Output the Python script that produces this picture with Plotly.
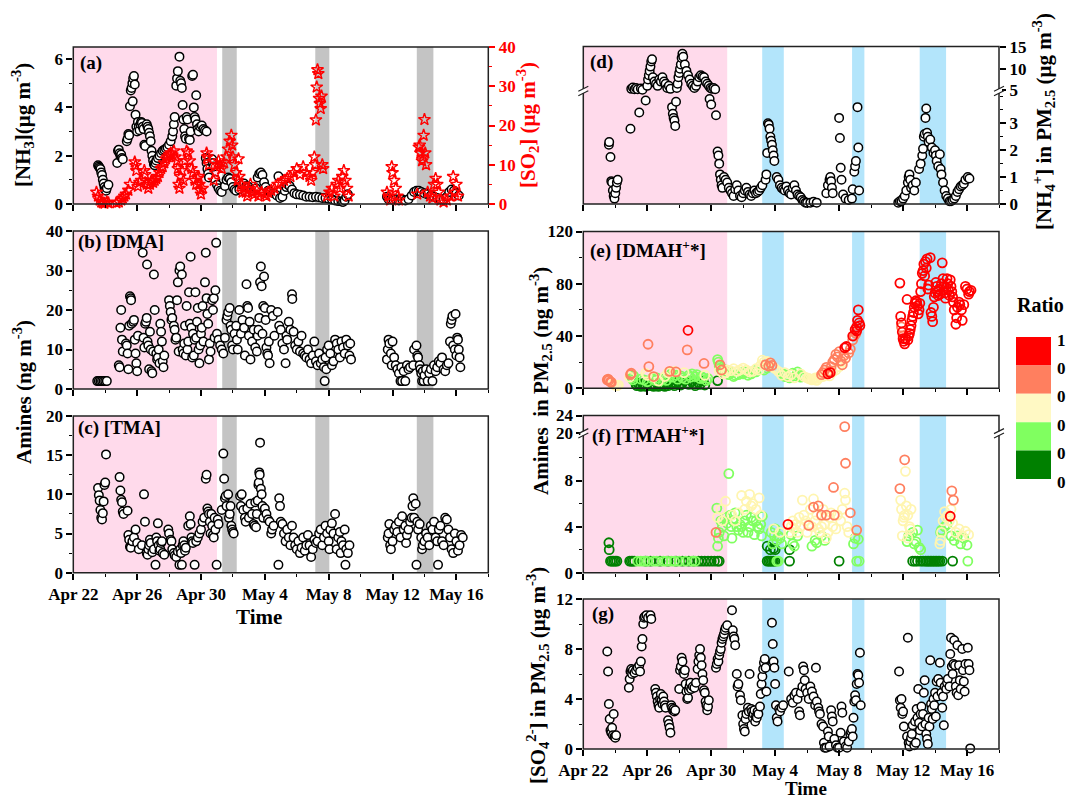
import pandas as pd
import plotly.graph_objects as go

# page body adds an 8px margin; figure is sized so that it ends at the window edge
PAGE_OFF = 8
W, H = 1077 - PAGE_OFF, 809 - PAGE_OFF
FONT = "Liberation Serif"
BASE = pd.Timestamp("2018-04-22")
X_END = BASE + pd.Timedelta(days=26)

# ---------------- periods (days since Apr 22) ----------------
pink_period = (0.0, 9.0)
gray_periods = [(9.33, 10.24), (15.16, 16.04), (21.52, 22.56)]
blue_periods = [(11.19, 12.54), (16.81, 17.58), (21.04, 22.69)]

# ---------------- legend ----------------
ratio_colors = ["#FF0000", "#FF7F5F", "#FFF9C4", "#80FF60", "#008000"]
ratio_labels = ["1", "0", "0", "0", "0", "0"]
class_order = ["D", "G", "Y", "S", "R"]
class_colors = {"R": "#FF0000", "S": "#FF7F5F", "Y": "#FFF5B0", "G": "#80FF60", "D": "#008000"}

# ---------------- (a) NH3 (ug m-3) ----------------
nh3 = [(1.55,1.6),(1.6,1.55),(1.65,1.5),(1.7,1.45),(1.75,1.3),(1.8,1.2),(1.85,1.0),(1.9,0.85),(1.95,0.7),(2.0,0.6),(2.05,0.55),(2.1,0.65),(2.2,0.8),
(2.75,1.7),(2.8,2.2),(2.85,2.25),(2.9,2.1),(2.95,2.0),(3.0,2.05),(3.05,1.9),(3.1,1.85),
(3.35,2.6),(3.4,2.7),(3.45,2.9),(3.5,2.85),(3.55,4.05),(3.6,4.7),(3.65,4.8),(3.7,5.0),(3.72,4.25),(3.75,5.2),(3.8,5.3),(3.85,4.95),(3.9,3.7),
(3.95,3.2),(4.0,3.0),(4.05,3.4),(4.1,3.2),(4.15,3.05),(4.2,3.3),(4.25,3.4),(4.3,3.35),(4.35,3.2),(4.4,3.1),(4.45,2.45),(4.5,2.4),(4.6,3.3),(4.65,3.2),(4.7,3.1),(4.75,2.95),(4.8,2.8),(4.85,2.6),(4.9,2.2),(4.95,2.0),(5.0,1.8),(5.05,1.65),(5.1,1.6),(5.15,1.7),(5.2,1.8),(5.3,1.9),(5.4,2.0),(5.5,2.1),(5.6,2.2),(5.7,2.25),(5.8,2.3),(5.9,2.35),(6.0,2.45),(6.1,2.6),(6.2,2.8),(6.25,3.0),(6.3,3.3),(6.35,3.6),
(6.45,4.9),(6.5,5.2),(6.55,5.5),(6.65,6.1),(6.7,5.1),(6.75,5.0),(6.8,4.8),(6.85,4.1),(6.9,3.5),(6.95,3.1),(7.0,2.8),(7.05,2.7),(7.1,3.6),(7.15,3.5),
(7.25,2.7),(7.3,2.65),(7.35,3.0),(7.45,5.3),(7.5,5.35),(7.55,4.0),(7.6,3.6),(7.65,3.5),(7.7,4.5),(7.75,3.3),(7.8,3.1),(7.85,3.0),
(7.95,3.2),(8.05,3.25),(8.15,3.1),(8.25,3.05),(8.35,3.0),
(8.3,1.9),(8.35,1.7),(8.4,1.45),(8.45,1.25),(8.5,1.1),(8.7,1.85),(8.75,1.7),(8.8,1.55),
(8.9,1.0),(9.0,0.8),(9.1,0.65),(9.2,0.55),(9.3,0.5),
(9.5,0.75),(9.6,1.0),(9.7,1.1),(9.8,1.05),(9.9,0.9),(10.0,0.7),(10.1,0.6),(10.2,0.55),
(10.4,0.6),(10.55,0.8),(10.7,0.85),(10.85,0.75),(11.0,0.7),(11.15,0.6),(11.3,0.55),(11.45,0.65),
(11.55,1.1),(11.65,1.25),(11.75,1.3),(11.85,1.2),(11.95,0.9),(12.05,0.7),(12.2,0.55),
(12.35,0.5),(12.55,0.45),(12.75,0.35),(12.85,1.15),(12.95,0.25),(13.1,0.3),(13.25,0.55),(13.35,0.7),(13.45,0.8),(13.55,0.75),(13.7,0.6),(13.85,0.45),
(14.0,0.4),(14.2,0.38),(14.4,0.35),(14.6,0.3),(14.8,0.3),(15.0,0.28),(15.2,0.3),(15.4,0.28),(15.6,0.25),(15.8,0.25),(16.0,0.22),(16.2,0.2),
(16.4,0.15),(16.6,0.12),(16.8,0.1),(16.9,0.08),(17.0,0.15),(17.1,0.3),(17.2,0.4),
(19.65,0.3),(19.75,0.2),(19.9,0.2),(20.05,0.18),(20.2,0.2),(20.4,0.15),(20.6,0.2),(20.8,0.15),(21.0,0.2),(21.2,0.35),(21.35,0.5),
(21.5,0.55),(21.65,0.55),(21.8,0.5),(22.0,0.45),(22.2,0.4),
(22.4,0.35),(22.6,0.3),(22.8,0.25),(23.0,0.2),(23.2,0.2),(23.4,0.3),(23.55,0.5),(23.7,0.6),(23.85,0.55),(24.0,0.45),(24.15,0.35)]

# ---------------- (a) SO2 (ug m-3) ----------------
so2 = [(1.45,3.0),(1.55,2.0),(1.65,1.0),(1.75,0.5),(1.85,0.3),(1.95,0.2),(2.1,0.5),(2.2,0.3),
(2.7,0.3),(2.85,0.5),(3.0,1.0),(3.1,1.5),(3.2,2.0),(3.3,2.5),(3.45,3.5),(3.55,5.0),
(3.85,10.7),(3.9,9.8),(3.95,8.5),
(4.05,4.5),(4.15,5.5),(4.25,6.0),(4.45,8.5),(4.5,7.5),(4.6,5.0),(4.7,4.0),(4.8,5.0),(4.9,6.0),(5.0,5.5),(5.1,6.0),
(5.2,6.5),(5.3,7.0),(5.4,8.0),(5.5,9.0),(5.6,9.5),(5.7,10.5),(5.8,11.5),(5.9,12.0),(6.0,12.5),(6.1,13.0),(6.2,12.5),(6.3,13.5),(6.4,12.0),(6.5,11.0),(6.55,9.0),(6.6,5.0),(6.65,4.0),(6.7,7.0),(6.8,8.5),(6.9,6.0),
(7.0,11.0),(7.1,13.5),(7.2,13.0),(7.3,11.0),(7.4,9.0),(7.5,8.0),(7.6,6.0),(7.7,5.0),(7.8,6.5),(7.85,7.0),(7.9,5.0),(7.95,3.5),(8.0,2.5),(8.1,4.0),
(8.35,13.0),(8.4,12.0),(8.5,10.0),
(8.8,6.0),(8.9,8.0),(9.0,10.0),(9.1,11.0),(9.2,10.0),(9.3,9.0),(9.45,10.5),(9.6,12.0),(9.7,14.0),(9.8,16.0),(9.9,17.5),(9.95,15.0),(10.0,12.0),(10.1,10.0),(10.2,8.0),(10.3,6.0),(10.35,11.5),(10.4,7.0),(10.5,5.0),
(10.6,3.0),(10.7,4.0),(10.8,3.0),(10.9,2.0),(11.0,4.0),(11.1,5.0),(11.2,3.0),(11.35,2.5),(11.5,3.5),(11.6,2.0),(11.8,3.0),(12.0,2.5),(12.1,2.0),
(12.2,3.0),(12.4,3.5),(12.6,4.0),(12.8,5.0),(13.0,5.5),(13.2,6.0),(13.4,6.5),(13.6,7.0),(13.8,8.0),(14.0,9.0),(14.2,7.5),(14.4,9.5),(14.6,8.0),(14.8,7.0),(14.9,6.0),(15.0,8.0),
(15.1,12.0),(15.15,10.0),(15.2,21.4),(15.25,29.8),(15.3,34.2),(15.35,33.2),(15.4,26.9),(15.45,25.6),(15.5,24.3),(15.55,27.5),(15.6,10.0),(15.65,9.0),
(15.9,2.0),(16.05,3.0),(16.2,4.0),(16.35,2.0),(16.5,5.0),(16.6,6.0),(16.7,4.0),(16.85,7.0),(16.95,8.5),(17.05,6.0),(17.15,4.0),(17.25,2.0),
(19.65,3.0),(19.75,2.0),(19.85,1.0),(19.95,9.5),(20.0,8.0),(20.1,6.0),(20.2,4.0),(20.3,2.0),(20.4,1.0),
(21.55,2.5),(21.65,14.5),(21.7,15.0),(21.75,13.0),(21.85,11.0),(21.9,12.0),(21.95,17.5),(22.0,21.5),(22.05,13.0),(22.1,10.0),(22.2,3.0),(22.35,2.0),(22.5,1.5),
(22.6,5.0),(22.7,6.5),(22.8,5.0),(22.9,3.0),(23.0,1.0),(23.2,0.5),(23.4,1.0),(23.6,2.0),(23.8,7.0),(23.9,3.0),(24.0,5.0),(24.1,2.0)]

# ---------------- (b) DMA (ng m-3) ----------------
dma = [(1.5,2),(1.6,2),(1.7,2),(1.8,2),(1.9,2),(2.0,2),(2.1,2),
(2.85,6.0),(2.9,5.5),(2.95,15.5),(3.0,20.0),(3.05,12.5),(3.1,9.5),
(3.3,11.5),(3.35,11.0),(3.4,9.0),(3.45,5.0),(3.5,16.0),(3.55,23.5),(3.6,23.0),(3.62,22.5),(3.65,16.5),(3.75,17.0),(3.8,17.5),(3.85,12.5),(3.9,9.0),(3.95,6.5),(4.0,4.5),(4.05,13.5),
(4.35,34.5),(4.4,13.0),(4.45,10.5),(4.5,16.5),(4.55,17.0),(4.6,18.0),(4.62,31.5),(4.65,12.0),(4.7,11.0),(4.75,5.0),(4.8,14.5),(4.85,10.0),(4.9,4.5),(4.95,4.0),(5.0,9.5),(5.05,29.0),(5.1,20.0),
(5.2,9.0),(5.25,7.5),(5.3,8.0),(5.35,10.0),(5.4,6.5),(5.45,16.5),(5.5,14.5),(5.55,12.0),(5.6,7.0),(5.65,5.5),(5.7,8.5),
(6.0,22.5),(6.05,21.0),(6.1,19.5),(6.15,17.5),(6.2,18.0),(6.3,16.0),(6.35,15.0),(6.4,12.5),(6.45,13.0),(6.5,22.5),(6.55,27.0),(6.6,9.5),(6.65,30.0),(6.7,31.0),(6.8,29.0),(6.85,10.0),(6.9,9.0),(6.95,11.5),(7.0,16.0),(7.05,8.5),(7.1,21.0),(7.15,10.0),(7.2,12.0),(7.25,24.5),(7.3,16.5),(7.35,33.5),(7.4,15.5),(7.45,8.0),(7.5,14.0),(7.55,8.5),(7.6,12.5),(7.65,24.5),(7.7,13.0),(7.75,17.0),(7.8,20.5),(7.85,10.0),(7.9,6.5),(7.95,11.0),(8.0,14.0),(8.05,15.5),(8.1,21.0),(8.15,12.0),(8.25,27.0),(8.3,34.5),(8.35,23.0),(8.4,19.0),(8.45,16.5),(8.5,7.5),(8.55,11.5),(8.6,9.5),(8.7,22.5),(8.75,20.0),(8.8,23.0),(8.85,13.0),(8.9,25.0),(8.95,37.0),(9.0,14.0),
(9.1,12.5),(9.2,11.0),(9.3,10.0),(9.4,9.0),(9.5,13.0),(9.6,17.5),(9.65,18.5),(9.7,19.5),(9.8,20.5),(9.85,16.0),(9.9,15.0),(9.95,11.0),(10.0,10.0),(10.1,14.0),(10.2,16.0),(10.25,12.5),(10.3,10.0),(10.4,20.0),
(10.5,14.0),(10.6,17.5),(10.7,15.5),(10.75,8.5),(10.85,26.5),(10.9,21.0),(10.95,20.5),(11.0,13.5),(11.05,17.0),(11.1,7.5),(11.2,12.0),(11.3,15.0),(11.4,10.5),(11.5,9.5),(11.55,13.5),(11.6,15.0),
(11.65,18.0),(11.7,27.0),(11.75,31.0),(11.8,26.0),(11.85,14.0),(11.9,21.0),(11.95,28.5),(12.0,20.5),(12.05,17.5),(12.1,10.5),(12.15,9.0),(12.2,8.5),(12.25,12.0),(12.3,6.5),(12.4,20.0),(12.5,18.5),(12.6,13.5),(12.8,19.5),(12.9,16.0),(13.0,15.0),(13.1,11.5),(13.2,10.0),(13.3,6.5),(13.35,13.5),
(13.4,12.5),(13.5,17.0),(13.6,15.0),(13.7,24.0),(13.72,22.8),(13.8,14.5),(13.9,11.0),(14.0,10.0),(14.1,12.0),(14.2,9.5),(14.3,13.5),
(14.4,9.0),(14.5,8.5),(14.6,8.0),(14.7,10.0),(14.8,7.5),(14.9,6.5),(15.0,8.5),(15.1,12.0),(15.2,7.0),(15.3,6.0),(15.4,9.0),(15.5,6.5),(15.6,7.5),(15.7,5.5),(15.75,2.0),(15.8,8.0),(15.85,5.0),(15.9,10.0),(16.0,11.0),(16.1,9.0),(16.2,6.0),(16.3,7.0),
(16.4,12.5),(16.5,11.5),(16.6,10.0),(16.7,8.0),(16.8,12.0),(16.9,10.5),(17.0,9.0),(17.1,12.5),(17.2,11.0),(17.3,8.5),(17.35,11.5),(17.4,7.5),
(19.65,7.5),(19.7,10.0),(19.75,12.5),(19.8,11.5),(19.9,9.0),(19.95,6.0),(20.0,12.0),(20.1,8.0),(20.2,6.0),(20.3,5.0),(20.4,4.0),(20.5,2.0),(20.55,5.5),(20.6,2.0),(20.7,4.5),(20.8,2.0),(20.9,6.0),(21.0,5.0),(21.1,5.5),(21.3,6.0),(21.35,10.0),
(21.5,11.0),(21.55,8.5),(21.6,8.0),(21.7,6.0),(21.75,5.0),(21.8,4.0),(21.85,2.0),(21.9,4.5),(21.95,2.0),(22.0,3.5),(22.1,5.0),(22.2,2.0),(22.3,4.0),(22.4,5.0),(22.5,2.0),(22.6,6.0),
(22.7,4.5),(22.8,5.5),(22.9,7.0),(23.0,6.5),(23.1,8.0),(23.2,5.0),(23.3,4.5),(23.4,6.0),(23.5,6.5),(23.6,12.0),(23.65,16.5),(23.7,17.5),(23.75,18.5),(23.8,11.0),(23.9,10.0),(23.95,19.0),(24.0,8.5),(24.05,13.0),(24.1,12.5),(24.15,10.0),(24.2,8.0),(24.25,5.5)]

# ---------------- (c) TMA (ng m-3) ----------------
tma = [(1.55,10.8),(1.6,9.9),(1.65,9.2),(1.7,8.0),(1.75,7.0),(1.8,6.8),(1.85,7.6),(1.9,9.1),(1.95,11.2),(2.0,11.5),(2.05,15.1),
(2.9,12.2),(2.95,10.5),(3.0,9.3),(3.05,9.0),(3.1,7.8),(3.15,7.5),(3.4,7.9),
(3.45,4.8),(3.5,4.2),(3.55,3.3),(3.6,3.2),(3.7,4.0),(3.8,4.5),(3.9,5.5),(4.0,3.8),(4.1,3.0),(4.3,3.5),(4.43,10.0),(4.49,6.5),
(4.6,2.5),(4.65,2.3),(4.7,3.0),(4.75,3.5),(4.8,4.2),(4.85,3.8),(4.95,2.6),(5.05,3.0),(5.15,1.0),(5.2,4.5),(5.25,4.0),(5.3,6.3),(5.35,3.5),(5.4,2.8),(5.45,3.0),(5.5,3.8),(5.55,4.0),(5.6,2.5),(5.7,2.3),
(5.95,5.5),(6.0,5.0),(6.1,4.2),(6.15,4.0),(6.2,3.0),(6.3,2.5),(6.35,2.2),(6.45,2.0),(6.55,2.7),(6.65,1.0),(6.7,3.0),(6.75,2.5),(6.8,1.0),(6.85,3.5),(6.9,4.0),(6.95,3.5),(7.0,2.8),(7.05,3.2),
(7.2,6.0),(7.3,7.2),(7.35,6.2),(7.4,4.5),(7.45,4.0),(7.5,3.8),(7.6,1.0),(7.7,4.0),(7.8,4.5),(7.9,5.0),(8.0,5.5),(8.1,6.5),(8.2,7.0),
(8.3,12.0),(8.35,12.5),(8.4,8.2),(8.45,7.8),(8.5,7.5),(8.55,6.5),(8.6,5.0),(8.65,7.5),(8.7,6.0),(8.75,4.8),(8.8,4.5),(8.85,7.0),(8.9,5.5),(8.98,1.0),(9.05,6.8),(9.1,6.2),
(9.3,8.0),(9.4,15.2),(9.45,12.0),(9.5,9.5),(9.55,9.8),(9.6,8.5),(9.7,10.0),(9.75,7.0),(9.8,7.5),(9.85,8.5),(9.9,6.0),(9.95,5.5),(10.0,5.2),(10.05,5.0),
(10.45,9.8),(10.5,8.5),(10.55,10.0),(10.65,8.0),(10.75,7.0),(10.8,6.5),(10.9,8.2),(11.0,7.0),(11.1,8.8),(11.2,7.5),(11.3,6.2),(11.35,6.0),(11.4,9.0),(11.45,5.8),(11.5,7.5),
(11.55,9.2),(11.6,11.2),(11.62,11.5),(11.65,12.8),(11.68,12.5),(11.7,16.6),(11.75,10.7),(11.8,10.0),(11.85,8.5),(11.9,7.0),
(12.0,8.2),(12.1,7.5),(12.2,6.8),(12.3,6.5),(12.4,5.0),(12.45,5.5),(12.55,6.0),(12.85,1.0),(12.9,9.5),(12.95,8.5),(13.0,6.5),(13.1,6.2),(13.2,5.0),(13.3,4.0),(13.4,5.5),
(13.5,4.5),(13.6,3.5),(13.7,6.0),(13.8,4.5),(13.9,3.5),(14.0,3.0),(14.1,4.0),(14.2,2.5),(14.3,3.2),(14.4,4.5),(14.5,2.8),(14.6,3.5),(14.7,4.8),(14.8,3.5),(14.9,2.0),(15.0,3.0),(15.1,4.2),(15.2,3.8),(15.3,4.0),
(15.4,5.0),(15.5,5.5),(15.6,3.5),(15.7,4.5),(15.8,6.0),(15.9,5.0),(16.0,4.0),(16.05,3.0),(16.1,5.5),(16.2,6.3),(16.3,5.0),(16.4,7.5),(16.5,3.0),(16.6,4.5),(16.7,5.2),(16.75,2.5),(16.8,4.0),(16.9,3.5),(17.0,5.5),(17.05,1.0),(17.1,3.0),(17.2,2.5),(17.3,3.5),
(19.7,4.5),(19.75,5.0),(19.8,6.2),(19.85,3.5),(19.9,3.0),(20.0,4.0),(20.1,5.5),(20.2,6.0),(20.3,5.2),(20.4,6.5),(20.5,4.5),(20.6,7.2),(20.7,5.5),(20.8,6.0),(20.85,3.8),(20.9,4.8),(21.0,5.5),(21.1,6.5),(21.2,7.0),(21.25,8.5),(21.3,9.5),(21.35,7.0),
(21.45,8.8),(21.5,1.0),(21.55,6.5),(21.6,5.5),(21.7,6.2),(21.8,4.5),(21.85,3.0),(21.9,3.5),(22.0,4.0),(22.1,5.0),(22.2,4.5),(22.3,3.5),(22.4,6.0),
(22.5,5.5),(22.6,6.5),(22.7,4.5),(22.8,4.0),(22.85,1.0),(22.9,5.5),(23.0,6.0),(23.1,4.0),(23.2,3.5),(23.3,7.0),(23.4,6.8),(23.5,5.5),(23.6,4.5),(23.7,3.0),(23.8,2.5),(23.9,5.0),(24.0,4.0),(24.1,2.8),(24.2,3.5),(24.3,4.8),(24.4,4.5)]

# ---------------- (d) NH4+ in PM2.5 (ug m-3) ----------------
nh4 = [(1.6,2.2),(1.62,2.3),(1.7,1.75),(1.75,0.85),(1.8,0.8),(1.85,0.5),(1.9,0.3),(1.95,0.2),(2.0,0.4),(2.05,0.6),(2.1,0.8),(2.15,0.9),
(2.95,2.8),(3.5,3.4),(3.9,3.85),
(3.0,5.3),(3.1,5.6),(3.2,5.2),(3.3,5.5),(3.4,5.2),(3.6,5.4),(3.7,5.1),
(4.0,6.0),(4.05,7.5),(4.1,8.5),(4.15,9.5),(4.2,10.5),(4.25,11.7),(4.3,12.2),(4.35,8.0),
(4.45,7.0),(4.55,6.5),(4.65,6.0),(4.75,7.5),(4.85,7.0),(4.95,8.0),(5.05,7.0),(5.15,6.5),(5.25,5.5),(5.35,6.0),(5.45,5.3),
(5.55,3.6),(5.6,3.35),(5.65,3.2),(5.7,3.1),(5.75,2.9),(5.8,3.8),
(5.85,5.5),(5.9,6.5),(5.95,8.0),(6.0,9.0),(6.05,10.0),(6.1,11.0),(6.15,12.5),(6.2,13.5),(6.25,12.8),
(6.35,11.0),(6.45,9.5),(6.55,8.5),(6.65,7.5),(6.75,6.5),(6.85,6.0),(6.95,5.5),(7.05,6.0),(7.15,7.0),(7.25,8.0),(7.35,8.5),(7.45,8.2),(7.55,8.0),(7.65,7.0),(7.75,6.5),(7.85,6.0),(7.95,5.5),(8.05,5.3),(8.15,5.5),(8.25,5.2),
(7.9,3.9),(8.0,3.7),(8.3,3.3),
(8.4,1.95),(8.45,1.8),(8.5,1.5),(8.55,1.1),(8.6,0.9),(8.65,0.7),(8.7,0.6),
(8.8,1.0),(8.9,0.9),(9.0,0.8),(9.1,0.6),(9.2,0.5),(9.3,0.4),(9.4,0.3),(9.5,0.55),(9.6,0.7),(9.7,0.5),(9.8,0.3),(9.9,0.25),(10.0,0.4),(10.1,0.5),(10.2,0.6),(10.3,0.45),(10.4,0.35),(10.5,0.3),(10.6,0.4),(10.7,0.5),(10.8,0.4),(10.9,0.45),(11.0,0.5),(11.1,0.6),(11.2,0.7),
(11.4,0.9),(11.45,1.1),(11.5,1.9),(11.55,3.0),(11.6,2.95),(11.65,2.8),(11.7,2.5),(11.75,2.35),(11.8,2.2),(11.85,2.0),(11.9,1.8),(11.95,1.6),
(12.1,1.0),(12.2,0.9),(12.3,0.7),(12.4,0.6),(12.5,0.55),(12.6,0.5),
(12.7,0.65),(12.8,0.5),(12.9,0.4),(13.0,0.35),(13.1,0.6),(13.2,0.7),(13.3,0.5),(13.4,0.35),(13.5,0.3),(13.6,0.25),(13.7,0.15),(13.8,0.1),(13.9,0.05),(14.0,0.05),
(14.2,0.05),(14.4,0.08),(14.6,0.05),
(15.2,0.4),(15.3,0.7),(15.4,0.9),(15.45,1.0),(15.5,0.85),(15.55,0.6),(15.6,0.4),
(16.0,3.2),(16.05,2.45),(16.1,1.35),(16.15,0.9),(16.25,0.35),(16.4,0.2),(16.6,0.15),(16.8,0.2),
(16.85,0.55),(16.95,1.2),(17.0,1.4),(17.05,1.6),(17.15,3.6),(17.2,2.1),(17.25,0.5),
(19.7,0.05),(19.8,0.1),(19.9,0.1),(20.0,0.2),(20.1,0.3),(20.2,0.5),(20.3,0.8),(20.35,1.0),(20.4,1.1),(20.45,0.9),(20.5,0.6),(20.6,0.7),(20.7,0.5),(20.8,0.8),
(21.0,1.3),(21.1,1.5),(21.2,1.8),(21.25,2.05),(21.3,2.5),(21.35,2.6),(21.4,3.2),(21.45,3.55),(21.5,2.65),(21.55,2.5),(21.6,2.3),(21.7,2.4),(21.8,2.1),(21.9,1.9),(22.0,2.0),(22.05,1.8),(22.1,1.6),(22.2,1.4),(22.3,1.85),(22.35,1.3),(22.4,1.1),(22.5,0.8),(22.6,0.5),(22.7,0.3),
(22.8,0.2),(22.9,0.1),(23.0,0.1),(23.1,0.15),(23.2,0.2),(23.3,0.3),(23.4,0.45),(23.5,0.55),(23.6,0.65),(23.7,0.7),(23.8,0.75),(23.9,0.9),(24.05,1.0),(24.15,0.95)]

# ---------------- (e) DMAH+* in PM2.5 (ng m-3): (day, value, ratio class) ----------------
dmah = [(1.5,6.5,"S"),(1.55,7.0,"S"),(1.6,6.0,"S"),(1.7,5.0,"S"),(1.75,4.5,"S"),(1.85,3.5,"Y"),(1.95,2.5,"Y"),(2.1,2.0,"Y"),(2.2,2.5,"Y"),
(2.95,10.5,"S"),(3.0,11.5,"S"),(3.05,8.0,"G"),(3.1,6.5,"G"),(3.15,9.5,"G"),(3.3,3.0,"D"),(3.35,2.0,"D"),(3.4,4.0,"D"),(2.9,8.5,"Y"),
(4.05,33.7,"S"),(4.1,16.6,"S"),(3.9,11.5,"Y"),(4.0,10.0,"Y"),
(3.5,2.5,"D"),(3.6,1.5,"D"),(3.7,3.5,"D"),(3.8,2.0,"D"),(3.9,1.5,"D"),(4.2,2.0,"D"),(4.3,3.0,"D"),(4.4,1.5,"D"),(4.5,2.5,"D"),(4.6,4.0,"D"),(4.7,1.5,"D"),(4.8,3.0,"D"),(4.9,2.0,"D"),(5.0,3.5,"D"),(5.1,1.5,"D"),(5.2,4.0,"D"),(5.3,2.0,"D"),(5.5,3.0,"D"),(5.6,4.5,"D"),(5.7,2.0,"D"),(5.8,3.5,"D"),(5.9,5.0,"D"),(6.0,3.0,"D"),(6.1,2.5,"D"),(6.2,4.0,"D"),(6.3,6.0,"D"),(6.5,4.0,"D"),(6.6,3.0,"D"),(6.8,5.0,"D"),(6.9,3.5,"D"),(7.0,2.0,"D"),(7.2,4.5,"D"),(7.3,3.0,"D"),(7.5,5.5,"D"),(7.6,2.5,"D"),(8.4,5.9,"D"),
(3.6,7.0,"G"),(3.8,6.5,"G"),(4.0,5.0,"G"),(4.3,7.5,"G"),(4.5,6.0,"G"),(4.6,8.0,"G"),(4.8,5.5,"G"),(5.0,7.0,"G"),(5.2,6.0,"G"),(5.4,9.0,"G"),(5.5,11.0,"G"),(5.6,8.5,"G"),(5.8,10.0,"G"),(5.9,7.0,"G"),(6.1,9.5,"G"),(6.2,8.0,"G"),(6.4,7.0,"G"),(6.6,10.0,"G"),(6.7,8.5,"G"),(6.8,11.0,"G"),(7.0,9.0,"G"),(7.1,10.5,"G"),(7.3,7.5,"G"),(7.4,9.0,"G"),(7.5,8.0,"G"),(7.7,6.0,"G"),(7.8,7.5,"G"),
(4.4,8.5,"Y"),(4.7,5.5,"Y"),(5.1,9.0,"Y"),(5.3,12.0,"Y"),(5.7,13.0,"Y"),(6.3,12.0,"Y"),(7.6,10.0,"Y"),
(4.4,9.0,"S"),(5.4,13.0,"S"),(5.8,12.5,"S"),(6.5,29.4,"S"),(6.55,44.4,"R"),(7.55,19.0,"S"),
(8.4,22.0,"G"),(8.45,20.0,"G"),(8.5,17.0,"G"),(8.6,15.0,"G"),(8.7,13.0,"G"),(8.8,14.5,"G"),(8.55,18.0,"S"),(8.65,14.0,"S"),(8.5,13.5,"Y"),(8.75,11.0,"Y"),(8.9,12.0,"Y"),
(9.1,10.5,"G"),(9.3,12.0,"G"),(9.4,9.0,"G"),(9.5,10.0,"G"),(9.7,10.5,"G"),(9.9,12.0,"G"),(10.0,11.0,"G"),(10.1,12.5,"G"),(10.3,10.0,"G"),(10.5,11.0,"G"),(10.7,13.5,"G"),(10.8,12.5,"G"),
(9.0,14.0,"Y"),(9.2,13.5,"Y"),(9.4,15.0,"Y"),(9.6,13.0,"Y"),(9.8,14.0,"Y"),(10.0,15.5,"Y"),(10.2,14.0,"Y"),(10.4,12.5,"Y"),(10.6,13.0,"Y"),(10.8,15.0,"Y"),(11.0,14.0,"Y"),(11.1,17.5,"Y"),(11.2,21.5,"Y"),(11.3,20.0,"Y"),
(11.4,18.0,"S"),(11.6,17.0,"S"),(11.7,19.5,"S"),(11.8,17.5,"S"),(11.5,20.5,"Y"),(11.9,16.0,"Y"),(12.0,15.0,"Y"),(12.2,13.0,"Y"),(11.3,14.0,"G"),(11.5,15.5,"G"),
(12.5,11.0,"G"),(12.6,9.0,"G"),(12.7,10.0,"G"),(12.9,8.0,"G"),(13.1,11.5,"G"),(13.3,9.5,"G"),(13.4,12.5,"G"),(13.5,10.0,"G"),(13.6,8.5,"G"),(13.7,9.0,"G"),
(12.4,10.0,"Y"),(12.6,12.0,"Y"),(12.8,9.0,"Y"),(13.0,10.5,"Y"),(13.2,8.0,"Y"),(13.6,11.0,"Y"),(13.8,9.0,"Y"),(14.0,8.0,"Y"),(14.1,7.5,"Y"),(14.2,7.0,"Y"),(14.3,6.5,"Y"),(14.4,7.0,"Y"),(14.5,8.0,"Y"),(14.6,6.0,"Y"),(14.7,7.5,"Y"),(14.8,9.0,"Y"),
(14.9,10.5,"S"),(15.0,12.0,"S"),(15.1,14.0,"S"),(15.2,16.0,"S"),(15.4,13.0,"S"),(15.5,16.5,"S"),(15.6,20.0,"S"),(15.7,22.0,"S"),(15.8,26.0,"S"),(15.9,24.0,"S"),(16.0,28.0,"S"),(16.1,21.0,"S"),(16.2,18.0,"S"),(16.3,25.0,"S"),(16.4,23.0,"S"),
(15.3,11.0,"R"),(15.45,12.0,"R"),(16.35,31.0,"R"),(16.45,32.0,"R"),
(15.0,9.0,"Y"),(15.2,12.0,"Y"),(15.4,9.5,"Y"),(15.6,12.5,"Y"),(15.8,14.0,"Y"),(16.0,16.5,"Y"),(16.2,20.0,"Y"),
(16.6,27.0,"S"),(16.7,30.0,"S"),(16.85,37.0,"S"),(16.95,40.0,"S"),(17.05,42.0,"S"),
(16.85,40.0,"R"),(17.0,45.0,"R"),(17.1,47.0,"R"),(17.15,52.0,"R"),(17.25,50.0,"R"),(17.2,60.0,"R"),(17.3,48.0,"R"),(17.1,44.0,"R"),
(19.9,47.0,"S"),(20.0,40.0,"S"),
(19.8,80.5,"R"),(19.85,55.0,"R"),(19.9,50.0,"R"),(19.95,43.0,"R"),(20.0,38.0,"R"),(20.05,36.0,"R"),(20.1,34.0,"R"),(20.15,38.0,"R"),(20.25,68.0,"R"),(20.3,37.0,"R"),(20.35,40.0,"R"),(20.4,42.0,"R"),(20.45,45.0,"R"),(20.5,48.0,"R"),(20.55,52.0,"R"),(20.6,55.0,"R"),(20.65,58.0,"R"),(20.7,62.0,"R"),(20.75,65.0,"R"),(20.8,67.0,"R"),(20.85,66.0,"R"),(20.9,63.0,"R"),(20.95,57.0,"R"),(21.0,60.0,"R"),(21.05,65.0,"R"),
(21.1,74.0,"R"),(21.15,80.0,"R"),(21.2,88.0,"R"),(21.25,90.0,"R"),(21.3,95.0,"R"),(21.35,86.0,"R"),(21.4,97.0,"R"),(21.45,92.0,"R"),(21.5,99.0,"R"),(21.55,76.0,"R"),(21.6,79.0,"R"),(21.7,100.0,"R"),(21.75,58.0,"R"),(21.8,55.0,"R"),(21.85,51.0,"R"),(21.9,62.0,"R"),(21.95,70.0,"R"),(22.0,73.0,"R"),(22.05,81.0,"R"),(22.1,78.0,"R"),(22.15,74.0,"R"),(22.2,71.0,"R"),(22.25,76.0,"R"),(22.3,72.0,"R"),(22.4,80.0,"R"),(22.45,96.0,"R"),(22.5,84.0,"R"),(22.55,78.0,"R"),(22.6,73.0,"R"),(22.65,69.0,"R"),(22.7,77.0,"R"),(22.75,84.0,"R"),(22.8,80.0,"R"),(22.85,75.0,"R"),(22.9,71.0,"R"),(22.95,83.0,"R"),(23.0,78.0,"R"),(23.05,74.0,"R"),(23.1,70.0,"R"),(23.15,66.0,"R"),(23.2,60.0,"R"),(23.3,49.0,"R"),(23.35,54.0,"R"),(23.4,62.0,"R"),(23.5,66.0,"R"),(23.55,64.0,"R"),(23.65,60.0,"R"),(23.7,52.0,"R"),(23.8,64.0,"R"),(23.9,78.0,"R"),(24.0,76.0,"R"),(24.1,72.0,"R"),(24.15,74.0,"R"),(24.25,75.0,"R")]

# ---------------- (f) TMAH+* in PM2.5 (ng m-3): (day, value, ratio class) ----------------
tmah = [(1.6,2.6,"D"),(1.62,2.0,"D"),
(1.7,1.0,"D"),(1.8,1.0,"D"),(1.9,1.0,"D"),(2.0,1.0,"D"),(2.1,1.0,"D"),(2.9,1.0,"D"),(3.0,1.0,"D"),(3.1,1.0,"D"),(3.2,1.0,"D"),(3.9,1.0,"D"),(4.2,1.0,"D"),(4.8,1.0,"D"),(5.3,1.0,"D"),(5.8,1.0,"D"),(6.2,1.0,"D"),(6.6,1.0,"D"),(6.9,1.0,"D"),(7.2,1.0,"D"),(7.4,1.0,"D"),(7.6,1.0,"D"),(7.8,1.0,"D"),(8.0,1.0,"D"),(8.2,1.0,"D"),(8.4,1.0,"D"),(8.5,1.0,"D"),
(3.4,1.0,"G"),(3.6,1.0,"G"),(3.8,1.0,"G"),(4.0,1.0,"G"),(4.4,1.0,"G"),(4.6,1.0,"G"),(5.0,1.0,"G"),(5.2,1.0,"G"),(5.5,1.0,"G"),(5.7,1.0,"G"),(6.0,1.0,"G"),(6.4,1.0,"G"),(6.8,1.0,"G"),(7.0,1.0,"G"),
(11.5,1.0,"D"),(11.6,1.0,"D"),(11.7,1.0,"D"),(11.8,1.0,"D"),(11.9,1.0,"D"),(12.0,1.0,"D"),(12.1,1.0,"G"),(12.2,1.0,"G"),
(11.5,2.3,"D"),(11.7,2.0,"D"),(11.9,2.1,"D"),(12.0,2.0,"D"),(12.9,1.0,"D"),(12.9,2.0,"D"),(16.0,1.0,"D"),(17.1,1.0,"G"),(17.25,1.0,"G"),
(20.6,1.0,"D"),(20.75,1.0,"D"),(20.9,1.0,"D"),(21.1,1.0,"D"),(21.25,1.0,"D"),(21.4,1.0,"D"),(21.5,1.0,"D"),(21.6,1.0,"D"),(21.7,1.0,"D"),(21.8,1.0,"D"),(21.9,1.0,"D"),(22.0,1.0,"D"),(22.1,1.0,"D"),(22.2,1.0,"D"),(22.3,1.0,"D"),(22.45,1.0,"D"),(23.1,1.0,"D"),(24.05,1.0,"G"),
(8.35,5.6,"G"),(8.4,2.3,"G"),(8.45,3.0,"G"),(8.5,3.5,"G"),(8.6,4.5,"G"),(8.7,4.0,"G"),(8.8,3.2,"G"),(8.9,4.8,"G"),(9.0,4.3,"G"),(9.1,8.6,"G"),(9.2,5.0,"G"),(9.25,4.0,"G"),(9.3,3.0,"G"),(9.35,4.5,"G"),(9.5,5.2,"G"),(9.6,4.0,"G"),(9.7,3.7,"G"),(9.8,4.2,"G"),(9.9,4.0,"G"),(10.0,3.5,"G"),(10.1,4.5,"G"),(10.2,5.0,"G"),(10.3,3.5,"G"),(10.4,4.0,"G"),(10.5,4.8,"G"),(10.6,4.5,"G"),(10.7,3.3,"G"),(10.8,4.5,"G"),(10.9,4.0,"G"),(11.0,3.8,"G"),(11.1,4.2,"G"),(11.15,3.2,"G"),(11.2,4.9,"G"),
(8.4,4.8,"Y"),(8.6,5.5,"Y"),(8.7,4.5,"Y"),(8.9,6.2,"Y"),(9.3,5.0,"Y"),(9.5,4.5,"Y"),(9.7,5.2,"Y"),(9.9,6.7,"Y"),(10.1,5.5,"Y"),(10.2,6.2,"Y"),(10.4,6.8,"Y"),(10.5,5.8,"Y"),(10.6,6.0,"Y"),(10.8,5.5,"Y"),(11.0,6.5,"Y"),(11.1,5.0,"Y"),(8.3,3.5,"S"),
(11.75,3.5,"G"),(11.85,2.5,"G"),(11.95,3.2,"G"),(12.0,3.8,"G"),(12.1,2.8,"G"),(12.2,3.2,"G"),(12.3,3.0,"G"),(12.4,2.5,"G"),(11.9,3.8,"Y"),(12.3,3.5,"Y"),(12.8,4.2,"R"),
(12.9,3.5,"Y"),(13.0,4.0,"Y"),(13.1,4.5,"Y"),(13.2,3.8,"Y"),(13.3,4.2,"Y"),(13.4,3.5,"Y"),(13.5,4.8,"Y"),(13.6,4.0,"Y"),(13.7,6.3,"Y"),(13.8,5.0,"Y"),(13.9,4.5,"Y"),(14.0,3.5,"Y"),(14.1,4.2,"Y"),(14.2,5.5,"Y"),(14.3,4.0,"Y"),(14.4,6.4,"Y"),(14.5,4.5,"Y"),(14.6,5.0,"Y"),(14.7,3.8,"Y"),(14.8,3.5,"Y"),(14.9,4.0,"Y"),(15.0,5.5,"Y"),(15.1,4.2,"Y"),(15.2,3.0,"Y"),(15.3,3.5,"Y"),(15.4,4.8,"Y"),(15.5,5.2,"Y"),(15.6,4.0,"Y"),(15.8,3.8,"Y"),(15.9,5.0,"Y"),(16.1,4.5,"Y"),(16.2,5.5,"Y"),(16.35,6.9,"Y"),(16.4,6.3,"Y"),(16.5,4.0,"Y"),(16.6,3.5,"Y"),
(14.1,4.1,"S"),(14.4,5.7,"S"),(14.7,5.8,"S"),(14.9,5.0,"S"),(15.2,5.0,"S"),(15.65,7.4,"S"),(15.7,5.0,"S"),(16.35,21.5,"S"),(16.4,9.5,"S"),(16.7,5.2,"S"),(17.1,3.7,"S"),
(13.0,3.3,"G"),(13.1,2.5,"G"),(13.2,2.3,"G"),(13.4,3.2,"G"),(14.3,2.3,"G"),(14.5,2.8,"G"),(14.6,2.6,"G"),(14.9,3.2,"G"),(15.1,2.8,"G"),(16.9,2.5,"G"),(17.0,3.0,"G"),(17.2,2.9,"G"),
(19.8,7.3,"S"),(20.1,9.8,"S"),
(20.15,8.8,"Y"),(19.85,6.3,"Y"),(19.9,5.5,"Y"),(20.0,4.5,"Y"),(20.05,4.8,"Y"),(20.1,5.0,"Y"),(20.2,5.8,"Y"),(20.3,5.0,"Y"),(20.4,4.0,"Y"),(20.45,3.8,"Y"),(20.5,5.5,"Y"),(19.95,3.2,"Y"),(20.3,3.0,"Y"),
(20.25,2.7,"G"),(20.35,3.2,"G"),(20.6,3.5,"G"),(20.7,2.5,"G"),(20.8,2.7,"G"),(20.9,3.7,"G"),(21.0,2.2,"G"),(21.1,2.0,"G"),
(22.3,2.5,"Y"),(22.35,2.8,"Y"),(22.4,3.5,"Y"),(22.5,4.5,"Y"),(22.6,5.3,"Y"),(22.7,4.8,"Y"),(22.8,5.0,"Y"),(22.9,4.5,"Y"),(23.0,5.5,"Y"),(23.1,4.3,"Y"),(23.3,3.5,"Y"),(23.5,3.8,"Y"),(23.7,3.2,"Y"),(23.9,3.6,"Y"),(24.1,3.3,"Y"),
(22.35,3.5,"G"),(22.4,3.7,"G"),(22.6,4.0,"G"),(22.75,4.2,"G"),(23.0,3.2,"G"),(23.2,2.8,"G"),(23.4,3.2,"G"),(23.6,2.5,"G"),(23.8,3.0,"G"),(24.0,2.4,"G"),
(23.05,7.1,"S"),(23.15,6.3,"S"),(22.95,4.9,"R")]

# ---------------- (g) SO4 2- in PM2.5 (ug m-3) ----------------
so4 = [(1.5,7.8),(1.55,6.2),(1.6,3.6),(1.65,2.4),(1.7,1.5),(1.75,1.3),(1.8,1.7),(1.85,1.1),(1.9,2.8),(1.95,1.0),(2.0,0.9),(2.05,1.1),
(2.85,4.9),(2.9,5.6),(2.95,6.2),(3.0,6.4),(3.05,6.0),(3.1,6.3),(3.2,6.1),(3.3,6.3),(3.4,6.5),(3.5,6.7),(3.55,6.2),(3.6,7.0),(3.65,8.2),(3.7,8.8),(3.75,10.0),(3.8,10.5),(3.85,10.6),
(3.95,10.7),(4.05,10.5),(4.2,10.7),(4.25,10.4),
(4.5,4.8),(4.55,4.5),(4.6,4.2),(4.65,3.8),(4.7,3.5),(4.75,3.3),(4.8,4.0),(4.85,4.4),(4.9,3.9),(4.95,3.6),(5.0,4.2),(5.05,3.8),(5.1,3.5),(5.15,3.3),
(5.3,2.3),(5.35,2.0),(5.4,1.7),(5.45,1.3),(5.5,3.5),(5.55,3.3),(5.6,3.1),(5.65,3.2),(5.7,3.0),(5.75,3.1),
(6.0,4.8),(6.05,6.3),(6.1,6.6),(6.15,7.3),(6.2,7.0),(6.25,6.2),(6.3,6.0),(6.35,6.3),(6.4,5.2),(6.45,4.6),(6.5,4.0),(6.55,4.1),(6.6,4.7),(6.65,5.0),(6.7,5.3),(6.75,4.8),(6.85,5.0),(6.95,4.9),(7.05,5.3),
(7.15,6.4),(7.2,7.0),(7.25,7.5),(7.3,8.0),(7.35,7.3),(7.4,6.7),(7.45,6.0),(7.5,5.5),(7.55,4.7),(7.6,4.5),(7.65,3.8),(7.7,3.5),(7.75,3.1),(7.8,3.4),(7.85,3.9),
(8.3,6.5),(8.35,6.8),(8.4,7.2),(8.45,7.0),(8.5,7.5),(8.55,7.8),(8.6,8.0),(8.65,8.5),(8.7,8.8),(8.75,9.0),(8.8,9.2),(8.85,9.5),(8.9,9.7),(9.0,9.9),(9.3,11.1),(9.35,9.5),(9.4,9.0),(9.45,8.8),(9.5,8.3),
(9.6,6.0),(9.65,5.0),(9.7,5.2),(9.8,4.3),(9.85,3.9),(9.95,2.7),(10.0,2.0),(10.05,1.6),(10.1,1.4),(10.15,2.4),(10.2,2.8),(10.3,3.3),(10.35,3.0),(10.4,6.0),(10.5,3.2),(10.55,3.0),(10.6,2.5),(10.65,2.8),(10.7,3.1),(10.75,2.2),(10.8,2.6),(10.85,2.5),(10.9,3.0),(10.95,2.8),
(11.05,3.4),(11.1,4.4),(11.15,5.2),(11.2,5.8),(11.25,6.4),(11.3,6.9),(11.35,7.2),(11.4,6.5),(11.45,4.6),(11.8,10.1),(11.85,8.4),(11.9,7.0),(11.95,6.5),(12.0,5.2),(12.05,3.5),(12.1,2.5),(12.15,2.2),(12.25,3.2),(12.3,3.0),(12.4,3.3),(12.5,3.5),
(12.85,6.2),(13.0,4.0),(13.1,3.7),(13.2,4.3),(13.3,4.5),(13.4,4.0),(13.5,3.0),(13.55,2.7),(13.6,4.5),(13.7,5.0),(13.75,6.6),(13.8,6.3),(13.85,5.5),(13.9,4.8),(14.0,4.5),(14.1,4.0),(14.2,5.0),(14.3,4.6),(14.4,4.2),(14.5,3.5),(14.55,6.5),(14.6,3.8),(14.7,3.3),(14.75,3.0),(14.8,2.8),
(14.9,2.0),(15.0,1.8),(15.05,0.5),(15.1,0.1),(15.2,0.1),(15.3,1.4),(15.35,1.0),(15.4,0.2),(15.5,3.1),(15.55,2.6),(15.6,2.2),(15.7,0.8),(15.8,0.3),(15.9,0.1),(16.0,0.1),(16.1,1.3),(16.15,3.4),(16.2,2.9),(16.3,0.6),(16.4,0.2),(16.5,0.1),(16.6,0.6),(16.7,1.2),(16.75,1.4),(16.8,1.6),(16.85,1.0),
(16.9,2.5),(16.95,3.8),(17.0,4.3),(17.05,3.9),(17.1,5.2),(17.15,6.0),(17.2,5.9),(17.25,5.3),(17.3,7.7),(17.35,3.5),
(19.75,6.2),(19.8,3.9),(19.85,3.3),(19.9,4.0),(19.95,2.8),(20.0,3.0),(20.05,1.8),(20.3,8.9),(20.25,1.0),(20.35,0.5),(20.4,0.2),(20.45,0.6),(20.5,0.9),
(20.55,1.2),(20.6,1.9),(20.7,0.3),(20.75,2.2),(20.8,0.5),(20.85,3.2),(20.9,2.5),(20.95,4.8),(21.0,2.1),(21.05,1.5),(21.1,2.8),(21.15,3.4),(21.2,1.8),(21.25,2.8),(21.3,4.5),(21.35,5.5),(21.4,2.0),(21.45,1.2),(21.5,0.8),(21.55,0.4),(21.6,2.5),(21.65,1.8),(21.7,7.1),(21.75,3.6),(21.8,3.2),(21.85,2.4),(21.9,4.0),(21.95,3.5),(22.0,4.5),(22.05,2.6),(22.1,5.4),(22.15,4.2),(22.2,5.6),(22.3,6.9),(22.35,5.3),(22.4,4.5),(22.45,3.3),(22.5,4.2),(22.55,1.9),(22.6,5.0),
(22.7,4.8),(22.75,5.3),(22.8,5.6),(22.9,5.0),(22.95,7.6),(23.0,8.9),(23.05,6.6),(23.1,6.0),(23.15,6.8),(23.2,8.7),(23.25,6.7),(23.3,5.0),(23.35,4.5),(23.4,8.3),(23.45,4.3),(23.5,6.7),(23.55,5.5),(23.6,4.8),(23.7,8.0),(23.75,6.3),(23.8,5.4),(23.85,4.6),(23.9,6.8),(24.05,8.1),(24.1,6.8),(24.15,6.3),(24.2,0.05)]


# ---------------- helpers ----------------
def to_dt(d):
    return BASE + pd.Timedelta(days=float(d))


def xy(points):
    return [to_dt(p[0]) for p in points], [p[1] for p in points]


# all layout positions below are window pixels; convert to paper fractions
def px(xp):
    return (xp - PAGE_OFF) / W


def py(yp):
    return 1 - (yp - PAGE_OFF) / H


def xdom(l, r):
    return [px(l), px(r)]


def ydom(top, bottom):
    return [py(bottom), py(top)]


LEFT = (73.3, 488.3)
RIGHT = (583.3, 999.0)
PA = (47, 204)
PB = (231, 389)
PC = (416, 572.7)
PD_UP = (46.5, 91.0)
PD_LO = (91.0, 204.0)
PE = (231.5, 388.3)
PF_UP = (415.5, 433.3)
PF_LO = (433.3, 572.7)
PG = (599, 749)

BLACK_CIRCLE = dict(symbol="circle", size=8.5, color="white", line=dict(color="black", width=1.5))

fig = go.Figure()

# (a) NH3 + SO2
x, y = xy(nh3)
fig.add_trace(go.Scatter(x=x, y=y, mode="markers", marker=BLACK_CIRCLE, xaxis="x", yaxis="y", cliponaxis=False, showlegend=False))
x, y = xy(so2)
fig.add_trace(go.Scatter(x=x, y=y, mode="markers",
                         marker=dict(symbol="star-open", size=9, color="red", line=dict(color="red", width=1.4)),
                         xaxis="x", yaxis="y2", cliponaxis=False, showlegend=False))
# (b) DMA
x, y = xy(dma)
fig.add_trace(go.Scatter(x=x, y=y, mode="markers", marker=BLACK_CIRCLE, xaxis="x2", yaxis="y3", cliponaxis=False, showlegend=False))
# (c) TMA
x, y = xy(tma)
fig.add_trace(go.Scatter(x=x, y=y, mode="markers", marker=BLACK_CIRCLE, xaxis="x3", yaxis="y4", cliponaxis=False, showlegend=False))
# (d) NH4 with broken axis
lo = [p for p in nh4 if p[1] < 4.5]
hi = [p for p in nh4 if p[1] >= 4.5]
x, y = xy(lo)
fig.add_trace(go.Scatter(x=x, y=y, mode="markers", marker=BLACK_CIRCLE, xaxis="x4", yaxis="y5", cliponaxis=False, showlegend=False))
x, y = xy(hi)
fig.add_trace(go.Scatter(x=x, y=y, mode="markers", marker=BLACK_CIRCLE, xaxis="x4", yaxis="y6", cliponaxis=False, showlegend=False))
# (e) DMAH colored by ratio
for c in class_order:
    pts = [(p[0], p[1]) for p in dmah if p[2] == c]
    if not pts:
        continue
    x, y = xy(pts)
    fig.add_trace(go.Scatter(x=x, y=y, mode="markers",
                             marker=dict(symbol="circle-open", size=9, color=class_colors[c], line=dict(width=1.8, color=class_colors[c])),
                             xaxis="x5", yaxis="y7", cliponaxis=False, showlegend=False))
# (f) TMAH colored by ratio, broken axis
for c in class_order:
    pts_lo = [(p[0], p[1]) for p in tmah if p[2] == c and p[1] < 15]
    pts_hi = [(p[0], p[1]) for p in tmah if p[2] == c and p[1] >= 15]
    mk = dict(symbol="circle-open", size=9, color=class_colors[c], line=dict(width=1.8, color=class_colors[c]))
    if pts_lo:
        x, y = xy(pts_lo)
        fig.add_trace(go.Scatter(x=x, y=y, mode="markers", marker=mk, xaxis="x6", yaxis="y8", cliponaxis=False, showlegend=False))
    if pts_hi:
        x, y = xy(pts_hi)
        fig.add_trace(go.Scatter(x=x, y=y, mode="markers", marker=mk, xaxis="x6", yaxis="y9", cliponaxis=False, showlegend=False))
# (g) SO4
x, y = xy(so4)
fig.add_trace(go.Scatter(x=x, y=y, mode="markers", marker=BLACK_CIRCLE, xaxis="x7", yaxis="y10", cliponaxis=False, showlegend=False))

# ---------------- axes ----------------
TICKFONT = dict(family=FONT, size=17, color="black", weight="bold")
DAY_MS = 86400000


def xax(dom, anchor, labels):
    return dict(type="date", domain=xdom(*dom), anchor=anchor, range=[BASE, X_END], automargin=False,
                tick0=BASE, dtick=4 * DAY_MS, tickformat="%b %-d", showticklabels=labels,
                ticks="outside", ticklen=6, tickwidth=1.5, tickcolor="black",
                minor=dict(tick0=BASE, dtick=2 * DAY_MS, ticks="outside", ticklen=3, tickwidth=1.2, tickcolor="black"),
                showgrid=False, zeroline=False, showline=False, tickfont=TICKFONT)


def yax(dom, anchor, rng, dtick=None, tickvals=None, minor=None, side="left", color="black"):
    d = dict(domain=ydom(*dom), anchor=anchor, range=rng, side=side, automargin=False,
             ticks="outside", ticklen=6, tickwidth=1.5, tickcolor=color,
             showgrid=False, zeroline=False, showline=False,
             tickfont=dict(family=FONT, size=17, color=color, weight="bold"))
    if dtick is not None:
        d.update(tick0=0, dtick=dtick)
    if tickvals is not None:
        d.update(tickmode="array", tickvals=tickvals)
    if minor is not None:
        d["minor"] = dict(tick0=0, dtick=minor, ticks="outside", ticklen=3, tickwidth=1.2, tickcolor=color)
    return d


layout = dict(
    template="none",
    width=W, height=H, margin=dict(l=0, r=0, t=0, b=0, autoexpand=False),
    paper_bgcolor="white", plot_bgcolor="rgba(0,0,0,0)",
    font=dict(family=FONT, color="black"),
    xaxis=xax(LEFT, "y", False),
    yaxis=yax(PA, "x", [0, 6.5], dtick=2, minor=1),
    yaxis2=dict(yax(PA, "x", [0, 40], dtick=10, minor=5, side="right", color="red"), overlaying="y"),
    xaxis2=xax(LEFT, "y3", False),
    yaxis3=yax(PB, "x2", [0, 40], dtick=10, minor=5),
    xaxis3=xax(LEFT, "y4", True),
    yaxis4=yax(PC, "x3", [0, 20], dtick=5, minor=2.5),
    xaxis4=xax(RIGHT, "y5", False),
    yaxis5=yax(PD_LO, "x4", [0, 4.2], tickvals=[0, 1, 2, 3], minor=0.5, side="right"),
    yaxis6=yax(PD_UP, "x4", [4.8, 15.2], tickvals=[5, 10, 15], side="right"),
    xaxis5=xax(RIGHT, "y7", False),
    yaxis7=yax(PE, "x5", [0, 120], dtick=40, minor=20),
    xaxis6=xax(RIGHT, "y8", False),
    yaxis8=yax(PF_LO, "x6", [0, 12.1], tickvals=[0, 4, 8], minor=2),
    yaxis9=yax(PF_UP, "x6", [20, 24], tickvals=[20, 24]),
    xaxis7=xax(RIGHT, "y10", True),
    yaxis10=yax(PG, "x7", [0, 12], dtick=4, minor=2),
)
fig.update_layout(**layout)

# ---------------- shaded periods ----------------
shapes = []
PINK, GRAY, BLUE = "#FFDAEB", "#C4C4C4", "#B3E5FB"
left_panels = [("x", PA), ("x2", PB), ("x3", PC)]
right_panels = [("x4", (PD_UP[0], PD_LO[1])), ("x5", PE), ("x6", (PF_UP[0], PF_LO[1])), ("x7", PG)]
for xr, (t, b) in left_panels + right_panels:
    shapes.append(dict(type="rect", xref=xr, yref="paper", x0=to_dt(pink_period[0]), x1=to_dt(pink_period[1]),
                       y0=py(b), y1=py(t), fillcolor=PINK, line=dict(width=0), layer="below"))
for xr, (t, b) in left_panels:
    for a, e in gray_periods:
        shapes.append(dict(type="rect", xref=xr, yref="paper", x0=to_dt(a), x1=to_dt(e),
                           y0=py(b), y1=py(t), fillcolor=GRAY, line=dict(width=0), layer="below"))
for xr, (t, b) in right_panels:
    for a, e in blue_periods:
        shapes.append(dict(type="rect", xref=xr, yref="paper", x0=to_dt(a), x1=to_dt(e),
                           y0=py(b), y1=py(t), fillcolor=BLUE, line=dict(width=0), layer="below"))
# frames
for (l, r), (t, b) in [(LEFT, PA), (LEFT, PB), (LEFT, PC), (RIGHT, (PD_UP[0], PD_LO[1])), (RIGHT, PE),
                       (RIGHT, (PF_UP[0], PF_LO[1])), (RIGHT, PG)]:
    shapes.append(dict(type="rect", xref="paper", yref="paper", x0=px(l), x1=px(r), y0=py(b), y1=py(t),
                       line=dict(color="#222222", width=1.5), fillcolor="rgba(0,0,0,0)", layer="above"))
# axis-break marks: two short slanted strokes crossing each broken spine
for xp, yp in [(RIGHT[0], PD_LO[0]), (RIGHT[1], PD_LO[0]), (RIGHT[0], PF_LO[0]), (RIGHT[1], PF_LO[0])]:
    shapes.append(dict(type="rect", xref="paper", yref="paper", x0=px(xp - 3), x1=px(xp + 3),
                       y0=py(yp + 2), y1=py(yp - 2), fillcolor="white", line=dict(width=0), layer="above"))
    for dy in (-2.2, 2.2):
        shapes.append(dict(type="line", xref="paper", yref="paper", x0=px(xp - 5), x1=px(xp + 5),
                           y0=py(yp + dy + 2.5), y1=py(yp + dy - 2.5), line=dict(color="#222222", width=1.2),
                           layer="above"))
# ratio legend blocks
blk_top, blk_h = 337.0, 28.4
for i, col in enumerate(ratio_colors):
    shapes.append(dict(type="rect", xref="paper", yref="paper", x0=px(1016), x1=px(1051),
                       y0=py(blk_top + (i + 1) * blk_h), y1=py(blk_top + i * blk_h),
                       fillcolor=col, line=dict(width=0)))
fig.update_layout(shapes=shapes)

# ---------------- annotations ----------------
ann = []


def text(xp, yp, s, size=19, color="black", angle=0, xanchor="center", yanchor="middle"):
    ann.append(dict(x=px(xp), y=py(yp), xref="paper", yref="paper", text=s, showarrow=False, textangle=angle,
                    xanchor=xanchor, yanchor=yanchor,
                    font=dict(family=FONT, size=size, color=color, weight="bold")))


text(78, 63, "(a)", xanchor="left")
text(76, 242, "(b) [DMA]", xanchor="left")
text(76, 428, "(c) [TMA]", xanchor="left")
text(588, 62, "(d)", xanchor="left")
text(588, 249, "(e) [DMAH<sup>+</sup>*]", xanchor="left")
text(590, 434, "(f) [TMAH<sup>+</sup>*]", xanchor="left")
text(590, 614, "(g)", xanchor="left")

text(22, 125, "[NH<sub>3</sub>](μg m<sup>-3</sup>)", size=21, angle=-90)
text(527, 125, "[SO<sub>2</sub>] (μg m<sup>-3</sup>)", size=21, angle=-90, color="red")
text(22, 392, "Amines (ng m<sup>-3</sup>)", size=21, angle=-90)
text(1043, 122, "[NH<sub>4</sub><sup>+</sup>] in PM<sub>2.5</sub> (μg m<sup>-3</sup>)", size=21, angle=-90)
text(540, 381, "Amines  in PM<sub>2.5</sub> (ng m<sup>-3</sup>)", size=21, angle=-90)
text(537, 676, "[SO<sub>4</sub><sup>2-</sup>] in PM<sub>2.5</sub> (μg m<sup>-3</sup>)", size=21, angle=-90)

text(259, 617, "Time", size=21)
text(806, 801, "Time", size=19, yanchor="bottom")

text(1040, 305, "Ratio", size=20)
for i, lab in enumerate(ratio_labels):
    text(1055, blk_top + i * blk_h + 3, lab, size=17, xanchor="left")

fig.update_layout(annotations=ann)
fig.write_html("out.html")
